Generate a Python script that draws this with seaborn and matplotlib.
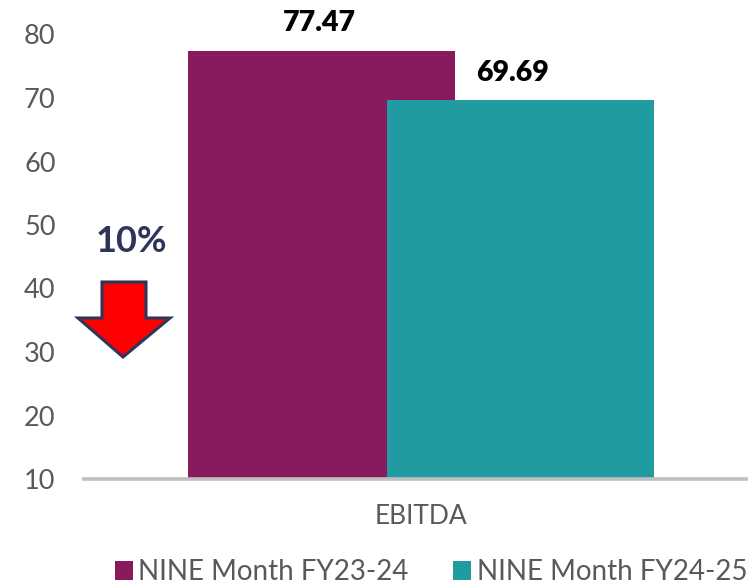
#import lib
import numpy as np
import pandas as pd
import matplotlib.pyplot as plt
import seaborn as sns
from matplotlib.patches import Polygon, Patch

# data
category = 'EBITDA'
series = ['NINE Month FY23-24', 'NINE Month FY24-25']
values = [77.47, 69.69]
colors = ['#881A5E', '#1F9BA1']
change_label = '10%'

df = pd.DataFrame({'series': series, 'value': values})

sns.set_style('white')
plt.rcParams['font.family'] = ['Lato', 'DejaVu Sans']

fig = plt.figure(figsize=(7.48, 5.87), dpi=100)
W, H = 748, 587
ax = fig.add_axes([82 / W, (H - 479) / H, (W - 82) / W, (479 - 34.5) / H])

# bars overlap a bit -> width larger than spacing of 1
sns.barplot(data=df, x='series', y='value', hue='series', palette=colors,
            order=series, hue_order=series, width=1.337, saturation=1,
            linewidth=0, legend=False, ax=ax)

ax.set_ylim(10, 80)
ax.set_xlim(-1.2035, 2.143)
ax.set_yticks(range(10, 81, 10))
ax.tick_params(axis='y', length=0, pad=19, labelsize=19.5, labelcolor='#595959')
ax.set_xticks([0.5], [category])
ax.tick_params(axis='x', length=0, pad=18, labelsize=19, labelcolor='#595959')
ax.set_xlabel('')
ax.set_ylabel('')
for s in ['left', 'right', 'top']:
    ax.spines[s].set_visible(False)
ax.spines['bottom'].set_color('#C0C0C0')
ax.spines['bottom'].set_linewidth(2.6)
ax.spines['bottom'].set_capstyle('butt')
ax.spines['bottom'].set_zorder(3)

# value labels
offs = [-0.01, -0.04]
for i, v in enumerate(values):
    ax.text(i + offs[i], v + 4.3, f'{v:.2f}', ha='center', va='center',
            fontsize=20.5, fontweight='heavy', color='black', clip_on=False)

# change marker: text + red down arrow (figure pixel coords)
fig.text(131 / W, 1 - 242 / H, change_label, ha='center', va='center',
         fontsize=26, fontweight='bold', color='#2E3558')
arrow_px = [(102, 282), (146, 282), (146, 318), (170, 318),
            (123, 357), (78, 318), (102, 318)]
arrow = Polygon([(x / W, 1 - y / H) for x, y in arrow_px], closed=True,
                facecolor='#FF0000', edgecolor='#2E3558', linewidth=2.2,
                joinstyle='miter', transform=fig.transFigure)
fig.patches.append(arrow)

# legend
handles = [Patch(facecolor=c, edgecolor='none') for c in colors]
fig.legend(handles, series, loc='center', bbox_to_anchor=(431 / W, 1 - 572 / H),
           ncol=2, frameon=False, fontsize=20, labelcolor='#595959',
           handlelength=0.65, handleheight=0.65, handletextpad=0.2,
           columnspacing=1.6, borderaxespad=0)

fig.savefig('out.png', dpi=100)
